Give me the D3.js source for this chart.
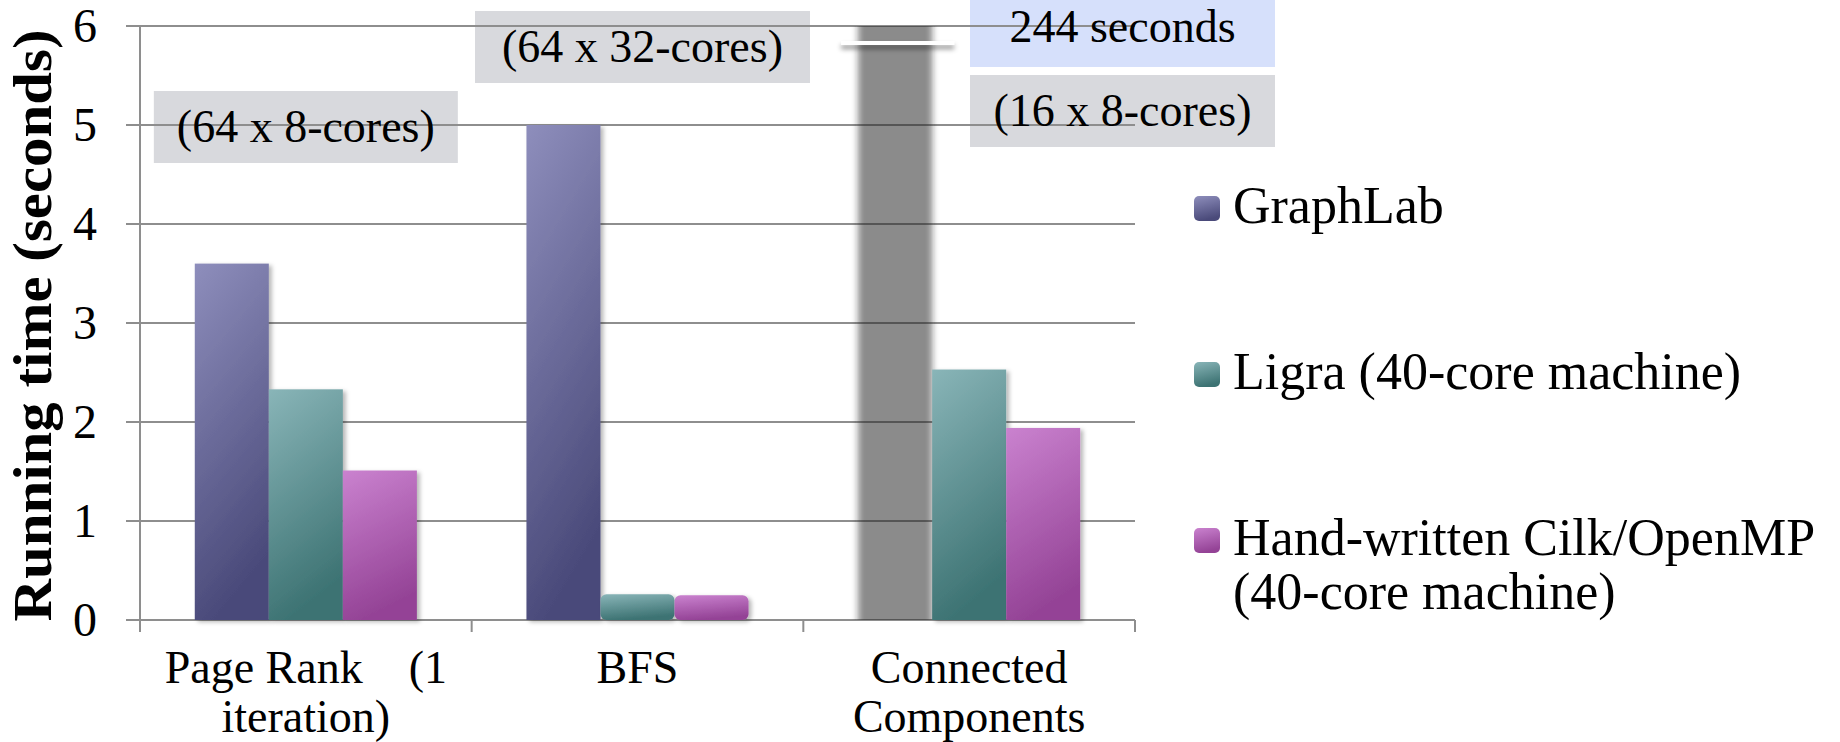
<!DOCTYPE html>
<html>
<head>
<meta charset="utf-8">
<script src="https://cdn.jsdelivr.net/npm/d3@7"></script>
<style>
  html, body { margin: 0; padding: 0; background: #fff; }
  svg text { font-family: "Liberation Serif", "DejaVu Serif", serif; }
</style>
</head>
<body>
<svg id="chart" width="1840" height="742" font-family="Liberation Serif, DejaVu Serif, serif"></svg>
<script>
// Running time per algorithm and system
const categories = [["Page Rank    (1", "iteration)"], ["BFS"], ["Connected", "Components"]];
const seriesNames = ["GraphLab", "Ligra (40-core machine)", "Hand-written Cilk/OpenMP (40-core machine)"];
const legendLines = [["GraphLab"], ["Ligra (40-core machine)"], ["Hand-written Cilk/OpenMP", "(40-core machine)"]];
const graphLab = [3.6, 5.0, 244];
const ligra = [2.33, 0.26, 2.53];
const cilk = [1.51, 0.25, 1.94];
const yTicks = [0, 1, 2, 3, 4, 5, 6];
const clusterNotes = ["(64 x 8-cores)", "(64 x 32-cores)", "(16 x 8-cores)"];
const yTitle = "Running time (seconds)";

const series = [graphLab, ligra, cilk];
const svg = d3.select("#chart");
const FONT = "'Liberation Serif', 'DejaVu Serif', serif";

const yMax = 6;
const x = d3.scaleBand().domain(d3.range(categories.length)).range([140, 1135]).paddingInner(0).paddingOuter(0);
const xs = d3.scaleBand().domain(d3.range(series.length)).range([0, x.bandwidth()]).paddingInner(0).paddingOuter(0.74);
const y = d3.scaleLinear().domain([0, yMax]).range([620, 26]);

const defs = svg.append("defs");
const grads = [
  ["#8e8ebc", "#4a4a7a"],
  ["#89b5b8", "#3d7373"],
  ["#ca82cf", "#944396"]
];
grads.forEach((g, i) => {
  const lg = defs.append("linearGradient").attr("id", "g" + i)
    .attr("x1", 0).attr("y1", 0).attr("x2", 0.25).attr("y2", 1);
  lg.append("stop").attr("offset", 0).attr("stop-color", g[0]);
  lg.append("stop").attr("offset", 1).attr("stop-color", g[1]);
});
const sh = defs.append("filter").attr("id", "shadow").attr("x", "-20%").attr("y", "-20%").attr("width", "150%").attr("height", "150%");
sh.append("feDropShadow").attr("dx", 3).attr("dy", 2).attr("stdDeviation", 2).attr("flood-color", "#000").attr("flood-opacity", 0.28);
const soft = defs.append("filter").attr("id", "soft").attr("x", "-30%").attr("y", "-5%").attr("width", "160%").attr("height", "110%");
soft.append("feGaussianBlur").attr("stdDeviation", "3 0.6");
const lineShadow = defs.append("filter").attr("id", "lineShadow").attr("x", "-10%").attr("y", "-200%").attr("width", "120%").attr("height", "700%");
lineShadow.append("feDropShadow").attr("dx", 0).attr("dy", 4).attr("stdDeviation", 2.5).attr("flood-color", "#000").attr("flood-opacity", 0.45);

function txt(sel) { return sel.attr("font-family", FONT); }

// annotation boxes behind the grid
const noteBoxes = [
  { text: clusterNotes[0], cx: x(0) + x.bandwidth() / 2, y0: 91, y1: 163, w: 304, fill: "#d8d9dd" },
  { text: clusterNotes[1], cx: x(1) + x.bandwidth() / 2 + 5, y0: 11, y1: 83, w: 335, fill: "#d8d9dd" },
  { text: graphLab[2] + " seconds", cx: 1122.5, y0: -6, y1: 67, w: 305, fill: "#d6e0fb", dy: 11.5 },
  { text: clusterNotes[2], cx: 1122.5, y0: 75, y1: 147, w: 305, fill: "#d8d9dd" }
];
svg.append("g").selectAll("rect").data(noteBoxes).join("rect")
  .attr("x", d => d.cx - d.w / 2).attr("y", d => d.y0)
  .attr("width", d => d.w).attr("height", d => d.y1 - d.y0)
  .attr("fill", d => d.fill);

// grid and axes
const grid = svg.append("g");
grid.selectAll("line").data(yTicks).join("line")
  .attr("x1", 126).attr("x2", 1135)
  .attr("y1", d => y(d)).attr("y2", d => y(d))
  .attr("stroke", "#8e8e8e").attr("stroke-width", 2);
grid.append("line").attr("x1", 140).attr("x2", 140).attr("y1", y(yMax)).attr("y2", 632)
  .attr("stroke", "#8e8e8e").attr("stroke-width", 2);
const xTickPos = d3.range(categories.length).map(i => x(i)).concat([x.range()[1]]);
grid.selectAll(".xt").data(xTickPos).join("line").attr("class", "xt")
  .attr("x1", d => d).attr("x2", d => d).attr("y1", y(0)).attr("y2", 632)
  .attr("stroke", "#8e8e8e").attr("stroke-width", 2);

// y tick labels
txt(svg.append("g").selectAll("text").data(yTicks).join("text"))
  .attr("x", 97).attr("y", d => y(d) + 16)
  .attr("text-anchor", "end").attr("font-size", 48)
  .text(d => d);

// y title
txt(svg.append("text"))
  .attr("transform", `translate(51,${(28 + 623) / 2}) rotate(-90)`)
  .attr("text-anchor", "middle").attr("font-size", 54).attr("font-weight", "bold")
  .attr("textLength", 592).attr("lengthAdjust", "spacingAndGlyphs")
  .text(yTitle);

// bars
const bars = svg.append("g");
categories.forEach((c, ci) => {
  series.forEach((s, si) => {
    const v = s[ci];
    const over = v > yMax;
    const bx = x(ci) + xs(si);
    const top = y(Math.min(v, yMax));
    if (over) {
      bars.append("rect")
        .attr("x", bx).attr("y", top)
        .attr("width", xs.bandwidth()).attr("height", y(0) - top)
        .attr("fill", "#222").attr("fill-opacity", 0.52)
        .attr("filter", "url(#soft)");
      // axis break marker
      bars.append("rect")
        .attr("x", bx - 17).attr("width", xs.bandwidth() + 39)
        .attr("y", 41).attr("height", 4)
        .attr("fill", "#fff")
        .attr("filter", "url(#lineShadow)");
    } else {
      bars.append("rect")
        .attr("x", bx).attr("y", top)
        .attr("width", xs.bandwidth()).attr("height", y(0) - top)
        .attr("rx", v < 0.5 ? 6 : 0)
        .attr("fill", `url(#g${si})`)
        .attr("filter", "url(#shadow)");
    }
  });
});

// note texts
txt(svg.append("g").selectAll("text").data(noteBoxes).join("text"))
  .attr("x", d => d.cx).attr("y", d => (d.y0 + d.y1) / 2 + (d.dy || 15))
  .attr("text-anchor", "middle").attr("font-size", 46)
  .text(d => d.text);

// category labels
const cl = svg.append("g");
categories.forEach((lines, ci) => {
  lines.forEach((t, li) => {
    txt(cl.append("text"))
      .attr("x", x(ci) + x.bandwidth() / 2).attr("y", 683 + li * 49)
      .attr("text-anchor", "middle").attr("font-size", 46)
      .style("white-space", "pre")
      .text(t);
  });
});

// legend
const legendBase = [223, 389, 555];
const lg = svg.append("g");
legendLines.forEach((lines, i) => {
  lg.append("rect")
    .attr("x", 1194).attr("y", legendBase[i] - 27)
    .attr("width", 26).attr("height", 25).attr("rx", 5)
    .attr("fill", `url(#g${i})`);
  lines.forEach((t, li) => {
    txt(lg.append("text"))
      .attr("x", 1233).attr("y", legendBase[i] + li * 54)
      .attr("font-size", 52)
      .text(t);
  });
});
</script>
</body>
</html>
